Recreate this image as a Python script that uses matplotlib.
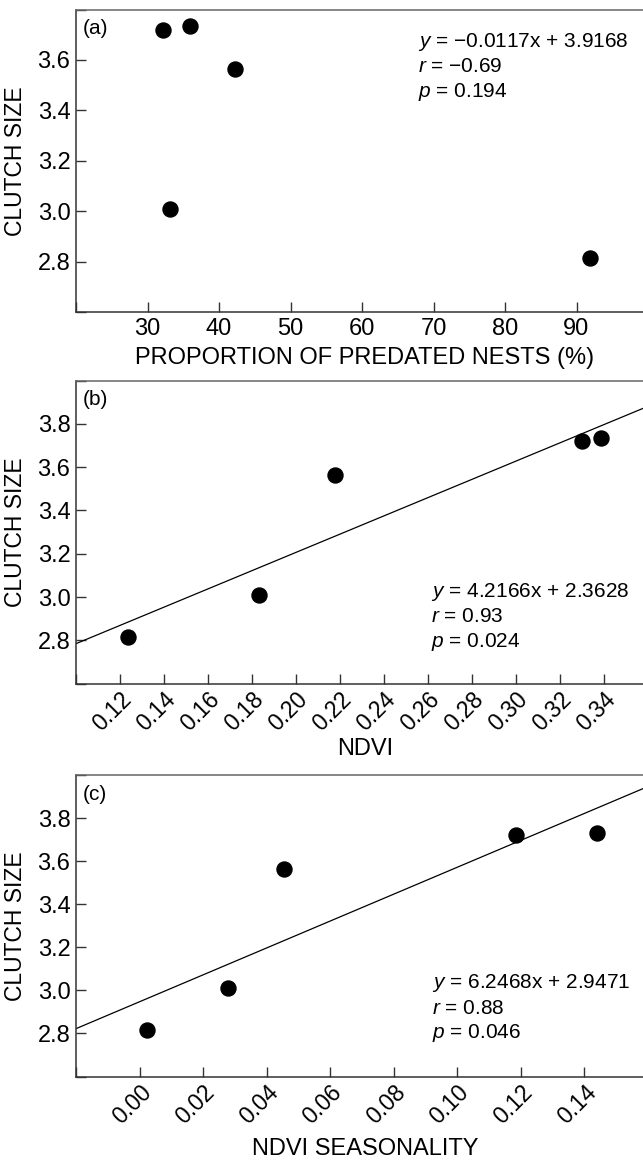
import matplotlib
matplotlib.use("Agg")
import matplotlib.pyplot as plt
import numpy as np

# Data (one entry per site, ordered by clutch size)
clutch_size = [2.815, 3.01, 3.565, 3.72, 3.733]
predated_nests = [91.9, 33.2, 42.2, 32.2, 36.0]
ndvi = [0.1235, 0.1834, 0.2176, 0.330, 0.3385]
ndvi_seasonality = [0.0023, 0.0278, 0.0453, 0.1184, 0.1440]

# regression coefficients printed on the panels (slope, intercept)
fit_b = (4.2166, 2.3628)
fit_c = (6.2468, 2.9471)

stats_a = ["\u22120.0117x + 3.9168", "\u22120.69", "0.194"]
stats_b = ["4.2166x + 2.3628", "0.93", "0.024"]
stats_c = ["6.2468x + 2.9471", "0.88", "0.046"]

ticks_a = [20, 30, 40, 50, 60, 70, 80, 90]
ticks_b = [0.10, 0.12, 0.14, 0.16, 0.18, 0.20, 0.22, 0.24, 0.26, 0.28, 0.30, 0.32, 0.34]
ticks_c = [-0.02, 0.00, 0.02, 0.04, 0.06, 0.08, 0.10, 0.12, 0.14]

plt.rcParams['font.family'] = ['Liberation Sans', 'DejaVu Sans']
plt.rcParams['mathtext.fontset'] = 'custom'
plt.rcParams['mathtext.it'] = 'Liberation Sans:italic'
plt.rcParams['mathtext.rm'] = 'Liberation Sans'

W, H = 643, 1160
fig = plt.figure(figsize=(W / 100, H / 100), dpi=100)


def px_axes(left, top, right, bottom):
    # axes from pixel box
    return fig.add_axes([left / W, 1 - bottom / H, (right - left) / W, (bottom - top) / H])


ax_a = px_axes(76, 9.6, 648, 312)
ax_b = px_axes(76, 380.5, 648, 683.6)
ax_c = px_axes(76, 775, 648, 1076.5)

edge = '#333333'


def style(ax, xlim, ylim, xticks, xlabels, yticks, rot):
    ax.set_xlim(xlim)
    ax.set_ylim(ylim)
    ax.spines['right'].set_visible(False)
    for s in ['left', 'bottom', 'top']:
        ax.spines[s].set_color(edge)
        ax.spines[s].set_linewidth(1.1)
    ax.spines['top'].set_color('#666666')
    ax.set_xticks(xticks)
    ax.set_xticklabels(xlabels)
    ax.set_yticks(yticks)
    ax.set_yticklabels([''] + ['%.1f' % v for v in yticks[1:-1]] + [''])
    ax.tick_params(direction='in', length=7.2, width=1.0, color=edge,
                   labelsize=17, pad=4)
    if rot:
        ax.tick_params(axis='x', labelsize=16.5, pad=3)
        for lab in ax.get_xticklabels():
            lab.set_rotation(45)
            lab.set_ha('right')
            lab.set_va('top')
            lab.set_rotation_mode('anchor')
    ax.set_ylabel('CLUTCH SIZE', fontsize=16.5)
    ax.yaxis.set_label_coords(-0.085, 0.5)


def stats(ax, x, y0, vals):
    names = ['y', 'r', 'p']
    for i in range(3):
        ax.text(x, y0 - i * 25 / 302, r'$\it{%s}$ = %s' % (names[i], vals[i]),
                transform=ax.transAxes, fontsize=15, va='center', ha='left')


# (a)
ax_a.plot(predated_nests, clutch_size, 'o', color='black', ms=10.8)
style(ax_a, (20, 100), (2.6, 3.8), ticks_a, [''] + [str(t) for t in ticks_a[1:]],
      [2.6, 2.8, 3.0, 3.2, 3.4, 3.6, 3.8], False)
ax_a.set_xlabel('PROPORTION OF PREDATED NESTS (%)', fontsize=17)
ax_a.xaxis.set_label_coords(0.505, -0.116)
ax_a.text(0.011, 0.936, '(a)', transform=ax_a.transAxes, fontsize=15, va='center')
stats(ax_a, 0.598, 0.894, stats_a)

# (b)
xs = np.array([0.10, 0.36])
ax_b.plot(xs, fit_b[0] * xs + fit_b[1], color='black', lw=0.9)
ax_b.plot(ndvi, clutch_size, 'o', color='black', ms=10.8)
style(ax_b, (0.10, 0.36), (2.6, 4.0), ticks_b, [''] + ['%.2f' % t for t in ticks_b[1:]],
      [2.6, 2.8, 3.0, 3.2, 3.4, 3.6, 3.8, 4.0], True)
ax_b.set_xlabel('NDVI', fontsize=17)
ax_b.xaxis.set_label_coords(0.505, -0.18)
ax_b.text(0.011, 0.936, '(b)', transform=ax_b.transAxes, fontsize=15, va='center')
stats(ax_b, 0.621, (683.6 - 591.7) / 303.1, stats_b)

# (c)
xs = np.array([-0.02, 0.16])
ax_c.plot(xs, fit_c[0] * xs + fit_c[1], color='black', lw=0.9)
ax_c.plot(ndvi_seasonality, clutch_size, 'o', color='black', ms=10.8)
style(ax_c, (-0.02, 0.16), (2.6, 4.0), ticks_c, [''] + ['%.2f' % t for t in ticks_c[1:]],
      [2.6, 2.8, 3.0, 3.2, 3.4, 3.6, 3.8, 4.0], True)
ax_c.set_xlabel('NDVI SEASONALITY', fontsize=17)
ax_c.xaxis.set_label_coords(0.505, -0.205)
ax_c.text(0.011, 0.936, '(c)', transform=ax_c.transAxes, fontsize=15, va='center')
stats(ax_c, 0.622, (1076.5 - 983.4) / 301.5, stats_c)

fig.savefig('out.png', dpi=100)
